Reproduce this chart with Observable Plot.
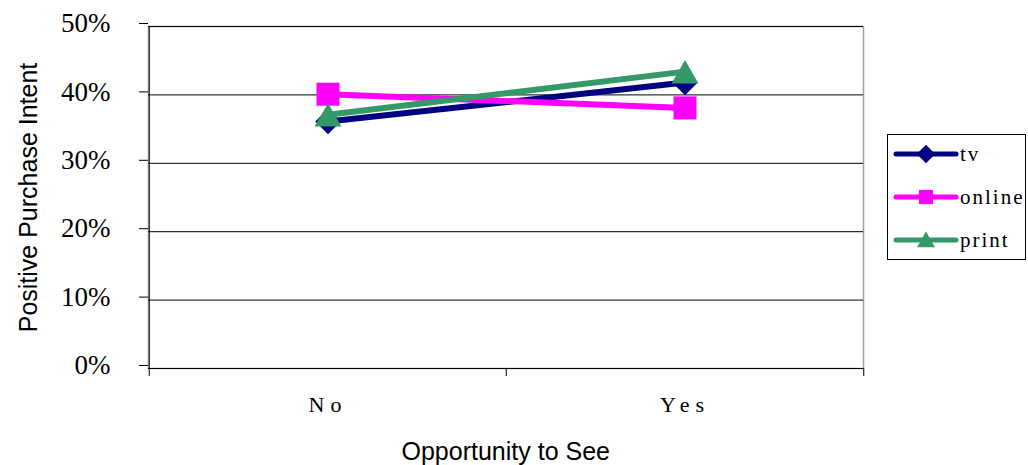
<!DOCTYPE html>
<html><head><meta charset="utf-8">
<script src="https://cdn.jsdelivr.net/npm/d3@7"></script>
<script src="https://cdn.jsdelivr.net/npm/@observablehq/plot@0.6"></script>
<style>
body{margin:0;background:#fff;}
#wrap{position:relative;width:1028px;height:465px;overflow:hidden;}
#wrap svg{position:absolute;left:0;top:0;}
.ytitle{position:absolute;font-family:"Liberation Sans",Arial,sans-serif;font-size:25px;color:#000;white-space:nowrap;transform-origin:center center;}
.xtitle{position:absolute;font-family:"Liberation Sans",Arial,sans-serif;font-size:25px;color:#000;white-space:nowrap;}
#legend{position:absolute;left:887px;top:134px;width:137px;height:124px;border:1px solid #000;background:#fff;}
.lrow{position:absolute;left:0;height:30px;display:flex;align-items:center;}
.lrow span{font-family:"Liberation Serif","DejaVu Serif",serif;font-size:21px;letter-spacing:2px;margin-left:1px;}
[aria-label="x-axis tick label"] text{letter-spacing:6px;}
</style></head><body><div id="wrap"></div>
<script>
const categories = ["No", "Yes"];
const seriesNames = ["tv", "online", "print"];
const tvValues = [0.361, 0.418];
const onlineValues = [0.401, 0.381];
const printValues = [0.371, 0.434];
const yTicks = [0, 0.1, 0.2, 0.3, 0.4, 0.5];
const colors = ["#000080", "#ff00ff", "#339966"];
const symbols = ["diamond2", "square", "triangle"];
const xTitle = "Opportunity to See";
const yTitle = "Positive Purchase Intent";

const W = 1028, H = 465;
const mL = 148, mR = 165, mT = 26, mB = 97;
const band = (W - mL - mR) / categories.length;

const valuesBySeries = [tvValues, onlineValues, printValues];
const rows = [];
seriesNames.forEach((s, i) => categories.forEach((c, j) => rows.push({series: s, cat: c, value: valuesBySeries[i][j]})));

const markR = {tv: 11.5, online: 13, print: 10};
const markDy = {tv: 0, online: 0, print: 4};
const below = -0.0118;

const marks = [
  Plot.frame({stroke: "#a0a0a0", strokeWidth: 1.5}),
  Plot.ruleY(yTicks, {stroke: "#000", strokeWidth: 1}),
  Plot.ruleX([categories[0]], {x: d => d, dx: -band / 2, y1: below, y2: 0.5, stroke: "#000"}),
  Plot.ruleX(categories.slice(1), {x: d => d, dx: -band / 2, y1: below, y2: 0, stroke: "#000"}),
  Plot.ruleX([categories[categories.length - 1]], {x: d => d, dx: band / 2, y1: below, y2: 0, stroke: "#000"}),
  Plot.axisY({ticks: yTicks, tickFormat: d3.format(".0%"), tickSize: 9, tickPadding: 29, label: null,
    fontFamily: "Liberation Serif, DejaVu Serif, serif", fontSize: 27, dy: -3}),
  Plot.axisX({tickSize: 0, tickPadding: 28, label: null,
    fontFamily: "Liberation Serif, DejaVu Serif, serif", fontSize: 22})
];
seriesNames.forEach((s, i) => {
  const d = rows.filter(r => r.series === s);
  marks.push(Plot.line(d, {x: "cat", y: "value", stroke: colors[i], strokeWidth: 6, strokeLinecap: "round"}));
  marks.push(Plot.dot(d, {x: "cat", y: "value", symbol: () => symbols[i], r: markR[s], fill: colors[i], stroke: "none", dy: markDy[s]}));
});

const chart = Plot.plot({
  width: W, height: H,
  marginLeft: mL, marginRight: mR, marginTop: mT, marginBottom: mB,
  style: {background: "#fff", color: "#000"},
  x: {type: "band", domain: categories, padding: 0, axis: null},
  y: {domain: [0, 0.5], axis: null},
  symbol: {type: "identity"},
  marks
});
const wrap = document.getElementById("wrap");
wrap.appendChild(chart);

const xt = document.createElement("div");
xt.className = "xtitle"; xt.textContent = xTitle;
wrap.appendChild(xt);
xt.style.left = (mL + (W - mL - mR) / 2 - xt.offsetWidth / 2) + "px";
xt.style.top = (451 - xt.offsetHeight / 2) + "px";

const yt = document.createElement("div");
yt.className = "ytitle"; yt.textContent = yTitle;
wrap.appendChild(yt);
const cy = mT + (H - mT - mB) / 2;
yt.style.left = (29 - yt.offsetWidth / 2) + "px";
yt.style.top = (cy - yt.offsetHeight / 2) + "px";
yt.style.transform = "rotate(-90deg)";

const legend = document.createElement("div");
legend.id = "legend";
wrap.appendChild(legend);
const legendSym = {diamond2: d3.symbolDiamond2, square: d3.symbolSquare, triangle: d3.symbolTriangle};
const legendSize = {diamond2: 220, square: 200, triangle: 140};
const legendDy = {diamond2: 0, square: 0, triangle: 2};
seriesNames.forEach((s, i) => {
  const row = document.createElement("div");
  row.className = "lrow";
  row.style.top = (20 + i * 43 - 15 - 1) + "px";
  const svg = d3.create("svg").attr("width", 66).attr("height", 30).style("position", "static").style("margin-left", "5px");
  svg.append("line").attr("x1", 3).attr("x2", 63).attr("y1", 15).attr("y2", 15)
    .attr("stroke", colors[i]).attr("stroke-width", 5).attr("stroke-linecap", "round");
  svg.append("path").attr("d", d3.symbol(legendSym[symbols[i]], legendSize[symbols[i]])())
    .attr("transform", `translate(33,${15 + legendDy[symbols[i]]})`).attr("fill", colors[i]);
  row.appendChild(svg.node());
  const t = document.createElement("span");
  t.textContent = s;
  row.appendChild(t);
  legend.appendChild(row);
});
</script>
</body></html>
